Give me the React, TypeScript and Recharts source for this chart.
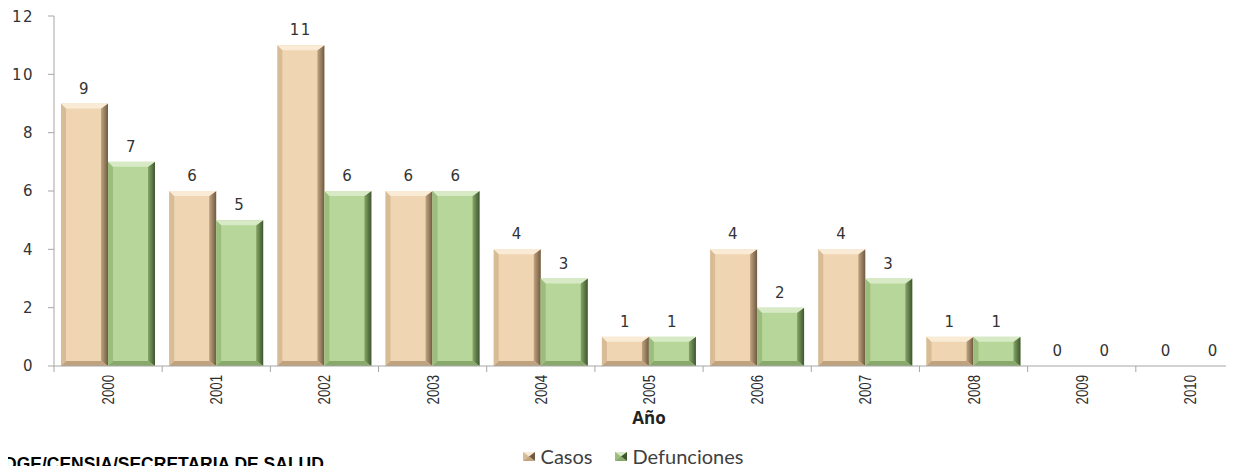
import React from 'react';
import { BarChart, Bar, XAxis, YAxis, LabelList, Legend } from 'recharts';

const years = ['2000', '2001', '2002', '2003', '2004', '2005', '2006', '2007', '2008', '2009', '2010'];
const casos = [9, 6, 11, 6, 4, 1, 4, 4, 1, 0, 0];
const defunciones = [7, 5, 6, 6, 3, 1, 2, 3, 1, 0, 0];
const yTicks = [0, 2, 4, 6, 8, 10, 12];

const data = years.map((year, i) => ({ year, casos: casos[i], defunciones: defunciones[i] }));

const CHART_W = 1240;
const MARGIN_R = 4;
const Y_W = 46;
const BAND = (CHART_W - MARGIN_R - Y_W) / years.length;

const PALETTE: Record<string, { main: string; top: string; left: string; right: string; rightDark: string; bottom: string }> = {
  casos: { main: '#EFD5B1', top: '#F9EBD6', left: '#D8BC96', right: '#C2A580', rightDark: '#6E5A43', bottom: '#BFA27E' },
  defunciones: { main: '#B7D69A', top: '#D7EAC5', left: '#9CBE7D', right: '#86A767', rightDark: '#3E5530', bottom: '#88A96B' },
};

const BevelBar = (props: any) => {
  const { x, y, width: w, height: h, dataKey } = props;
  if (!h || h <= 0) return null;
  const p = PALETTE[dataKey];
  const b = Math.min(5, h / 2);
  const r = Math.min(7, h / 2);
  const gid = `grad-${dataKey}`;
  return (
    <g>
      <defs>
        <linearGradient id={gid} x1="0" y1="0" x2="1" y2="0">
          <stop offset="0%" stopColor={p.right} />
          <stop offset="100%" stopColor={p.rightDark} />
        </linearGradient>
      </defs>
      <rect x={x} y={y} width={w} height={h} fill={p.main} />
      <polygon points={`${x},${y} ${x + b},${y + b} ${x + b},${y + h - b} ${x},${y + h}`} fill={p.left} />
      <polygon points={`${x + w},${y} ${x + w},${y + h} ${x + w - r},${y + h - b} ${x + w - r},${y + b}`} fill={`url(#${gid})`} />
      <polygon points={`${x},${y + h} ${x + w},${y + h} ${x + w - r},${y + h - b} ${x + b},${y + h - b}`} fill={p.bottom} />
      <polygon points={`${x},${y} ${x + w},${y} ${x + w - r},${y + b} ${x + b},${y + b}`} fill={p.top} />
    </g>
  );
};

// year label at the category centre, tick mark at the category boundary
const YearTick = (props: any) => {
  const { x, y, payload, index } = props;
  const left = x - BAND / 2;
  return (
    <g>
      <line x1={left} x2={left} y1={y - 8} y2={y - 2} stroke="#A6A6A6" />
      {index === years.length - 1 && (
        <line x1={left + BAND} x2={left + BAND} y1={y - 8} y2={y - 2} stroke="#A6A6A6" />
      )}
      <text
        transform={`translate(${x},${y + 1}) rotate(-90) scale(0.78,1)`}
        textAnchor="end"
        dy="0.35em"
        fill="#2b2b2b"
        fontSize={17}
        fontFamily="'Liberation Sans', Arial, sans-serif"
      >
        {payload.value}
      </text>
    </g>
  );
};

const LegendIcon = ({ k }: { k: string }) => {
  const p = PALETTE[k];
  return (
    <svg width={12} height={9} style={{ marginRight: 6 }}>
      <rect x={0} y={0} width={12} height={9} fill={p.main} />
      <polygon points="0,0 12,0 6,4.5" fill={p.top} />
      <polygon points="0,0 6,4.5 0,9" fill={p.left} />
      <polygon points="12,0 12,9 6,4.5" fill={p.rightDark} />
      <polygon points="0,9 12,9 6,4.5" fill={p.bottom} />
    </svg>
  );
};

const renderLegend = (props: any) => {
  const { payload } = props;
  return (
    <div style={{ height: 36, display: 'flex', justifyContent: 'center', alignItems: 'flex-start', paddingTop: 7, boxSizing: 'border-box', paddingLeft: 36 }}>
      {payload.map((entry: any) => (
        <span key={entry.dataKey} style={{ display: 'inline-flex', alignItems: 'center', marginRight: 22, fontFamily: 'Lato, sans-serif', fontSize: 20, lineHeight: '22px', color: '#404040' }}>
          <LegendIcon k={entry.dataKey} />
          {entry.value}
        </span>
      ))}
    </div>
  );
};

const valueFont = { fill: '#333', fontSize: 15, fontFamily: "'DejaVu Sans', Verdana, sans-serif", letterSpacing: 1.5 };

export default function App() {
  return (
    <div style={{ position: 'relative', width: 1226, height: 458 }}>
      <BarChart
        width={CHART_W}
        height={466}
        data={data}
        margin={{ top: 8, right: MARGIN_R, left: 0, bottom: 0 }}
        barCategoryGap={7}
        barGap={0}
      >
        <XAxis
          dataKey="year"
          height={72}
          stroke="#A6A6A6"
          tickSize={6}
          tickLine={{ stroke: 'none' }}
          tick={<YearTick />}
          interval={0}
          label={{ value: 'Año', position: 'insideBottom', offset: 14, fontWeight: 'bold', fontSize: 17, fill: '#222', fontFamily: "'Open Sans', sans-serif" }}
        />
        <YAxis
          width={Y_W}
          domain={[0, 12]}
          ticks={yTicks}
          stroke="#A6A6A6"
          tickSize={6}
          tickMargin={14}
          tick={valueFont}
        />
        <Legend verticalAlign="bottom" height={36} content={renderLegend} />
        <Bar dataKey="casos" name="Casos" fill="#EFD5B1" shape={<BevelBar />} isAnimationActive={false}>
          <LabelList dataKey="casos" position="top" offset={10} {...valueFont} />
        </Bar>
        <Bar dataKey="defunciones" name="Defunciones" fill="#B7D69A" shape={<BevelBar />} isAnimationActive={false}>
          <LabelList dataKey="defunciones" position="top" offset={10} {...valueFont} />
        </Bar>
      </BarChart>
      <div
        style={{
          position: 'absolute',
          left: -4,
          top: 448,
          fontFamily: "'Liberation Sans', Arial, sans-serif",
          fontWeight: 'bold',
          fontSize: 17.5,
          lineHeight: 1,
          color: '#000',
          whiteSpace: 'nowrap',
        }}
      >
        DGE/CENSIA/SECRETARIA DE SALUD
      </div>
    </div>
  );
}
